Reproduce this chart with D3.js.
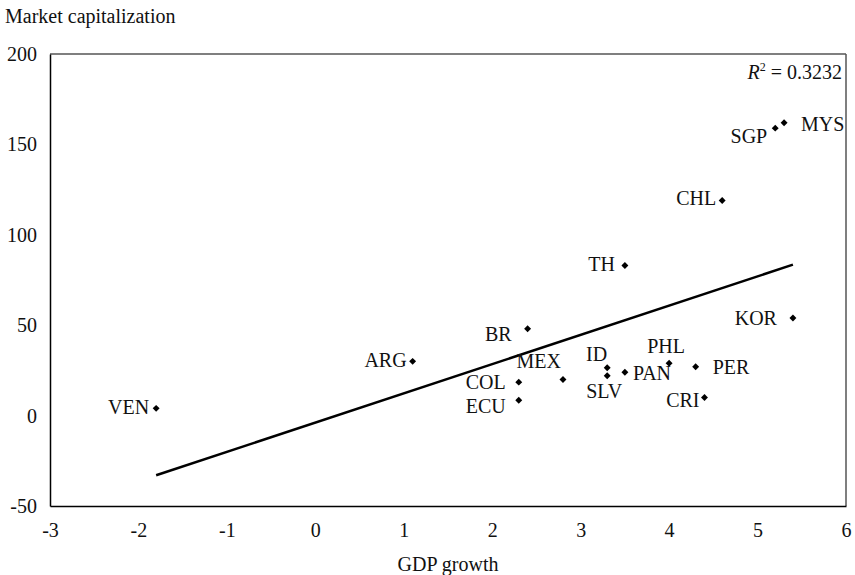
<!DOCTYPE html>
<html>
<head>
<meta charset="utf-8">
<script src="https://cdn.jsdelivr.net/npm/d3@7"></script>
<style>
  body { margin: 0; background: #fff; }
  svg text { font-family: "Liberation Serif", "DejaVu Serif", serif; fill: #111; }
</style>
</head>
<body>
<svg id="plotarea"></svg>
<script>
// data
const countries = ['VEN', 'ARG', 'BR', 'MEX', 'COL', 'ECU', 'ID', 'SLV', 'PAN',
                   'PHL', 'PER', 'CRI', 'TH', 'KOR', 'CHL', 'SGP', 'MYS'];
const gdpGrowth = [-1.8, 1.1, 2.4, 2.8, 2.3, 2.3, 3.3, 3.3, 3.5,
                   4.0, 4.3, 4.4, 3.5, 5.4, 4.6, 5.2, 5.3];
const marketCap = [4, 30, 48, 20, 18.5, 8.5, 26.5, 22, 24,
                   29, 27, 10, 83, 54, 119, 159, 162];
const xTicks = [-3, -2, -1, 0, 1, 2, 3, 4, 5, 6];
const yTicks = [-50, 0, 50, 100, 150, 200];
const trendX = [-1.8, 5.4];
const trendY = [-33, 83.5];
const rSquared = '0.3232';

// label placement around each marker (pixels)
const labelPos = {
    VEN: { anchor: 'end', dx: -7, dy: 6 },
    ARG: { anchor: 'end', dx: -6, dy: 6 },
    BR:  { anchor: 'end', dx: -16, dy: 12 },
    MEX: { anchor: 'end', dx: -2, dy: -11 },
    COL: { anchor: 'end', dx: -13, dy: 7 },
    ECU: { anchor: 'end', dx: -13, dy: 13 },
    ID:  { anchor: 'end', dx: 0, dy: -7 },
    SLV: { anchor: 'middle', dx: -3, dy: 22 },
    PAN: { anchor: 'start', dx: 8, dy: 8 },
    PHL: { anchor: 'middle', dx: -3, dy: -10 },
    PER: { anchor: 'start', dx: 17, dy: 7 },
    CRI: { anchor: 'end', dx: -5, dy: 9 },
    TH:  { anchor: 'end', dx: -10, dy: 5 },
    KOR: { anchor: 'end', dx: -16, dy: 7 },
    CHL: { anchor: 'end', dx: -6, dy: 5 },
    SGP: { anchor: 'end', dx: -8, dy: 15 },
    MYS: { anchor: 'start', dx: 17, dy: 8 },
};

const width = 855, height = 575;
const plot = { left: 50, right: 846, top: 54, bottom: 506 };

var svg = d3.select('#plotarea')
            .attr('width', width)
            .attr('height', height);

var x = d3.scaleLinear().domain([-3, 6]).range([plot.left, plot.right]);
var y = d3.scaleLinear().domain([-50, 200]).range([plot.bottom, plot.top]);

var points = countries.map((c, i) => ({ name: c, gdp: gdpGrowth[i], cap: marketCap[i] }));

// frame: top/right lighter, left/bottom black
svg.append('line')
   .attr('x1', plot.left).attr('x2', plot.right)
   .attr('y1', plot.top).attr('y2', plot.top)
   .attr('stroke', '#555').attr('stroke-width', 1.5);
svg.append('line')
   .attr('x1', plot.right).attr('x2', plot.right)
   .attr('y1', plot.top).attr('y2', plot.bottom)
   .attr('stroke', '#555').attr('stroke-width', 1.5);

// Y axis
svg.append('g')
   .attr('class', 'y-axis')
   .attr('transform', `translate(${plot.left},0)`)
   .call(d3.axisLeft(y).tickValues(yTicks).tickSize(0).tickPadding(13).tickFormat(d => String(d)));

// X axis
svg.append('g')
   .attr('class', 'x-axis')
   .attr('transform', `translate(0,${plot.bottom})`)
   .call(d3.axisBottom(x).tickValues(xTicks).tickSize(0).tickPadding(17).tickFormat(d => String(d)));

svg.selectAll('.domain').attr('stroke', '#000').attr('stroke-width', 1.5);
svg.selectAll('.tick text')
   .style('font-family', '"Liberation Serif", serif')
   .style('font-size', '20px')
   .attr('fill', '#111');

// axis titles
svg.append('text')
   .attr('x', 5)
   .attr('y', 23)
   .style('font-size', '20px')
   .text('Market capitalization');

svg.append('text')
   .attr('x', x(1.5))
   .attr('y', 571)
   .style('text-anchor', 'middle')
   .style('font-size', '20px')
   .text('GDP growth');

// trend line
var trendLine = d3.line()
                  .x(d => x(d[0]))
                  .y(d => y(d[1]));
svg.append('path')
   .attr('d', trendLine(trendX.map((v, i) => [v, trendY[i]])))
   .attr('fill', 'none')
   .attr('stroke', '#000')
   .attr('stroke-width', 2.5);

// markers
var diamond = d3.symbol().type(d3.symbolSquare).size(24);
svg.selectAll('.pt')
   .data(points)
   .enter()
   .append('path')
   .attr('class', 'pt')
   .attr('d', diamond)
   .attr('transform', d => `translate(${x(d.gdp)},${y(d.cap)}) rotate(45)`)
   .attr('fill', '#000');

// country labels
svg.selectAll('.lbl')
   .data(points)
   .enter()
   .append('text')
   .attr('class', 'lbl')
   .attr('x', d => x(d.gdp) + labelPos[d.name].dx)
   .attr('y', d => y(d.cap) + labelPos[d.name].dy)
   .style('text-anchor', d => labelPos[d.name].anchor)
   .style('font-size', '20px')
   .text(d => d.name);

// R squared
var r2 = svg.append('text')
   .attr('x', plot.right - 4)
   .attr('y', 79)
   .style('text-anchor', 'end')
   .style('font-size', '20px');
r2.append('tspan').style('font-style', 'italic').text('R');
r2.append('tspan').attr('dy', -8).style('font-size', '12px').text('2');
r2.append('tspan').attr('dy', 8).text(' = ' + rSquared);
</script>
</body>
</html>
